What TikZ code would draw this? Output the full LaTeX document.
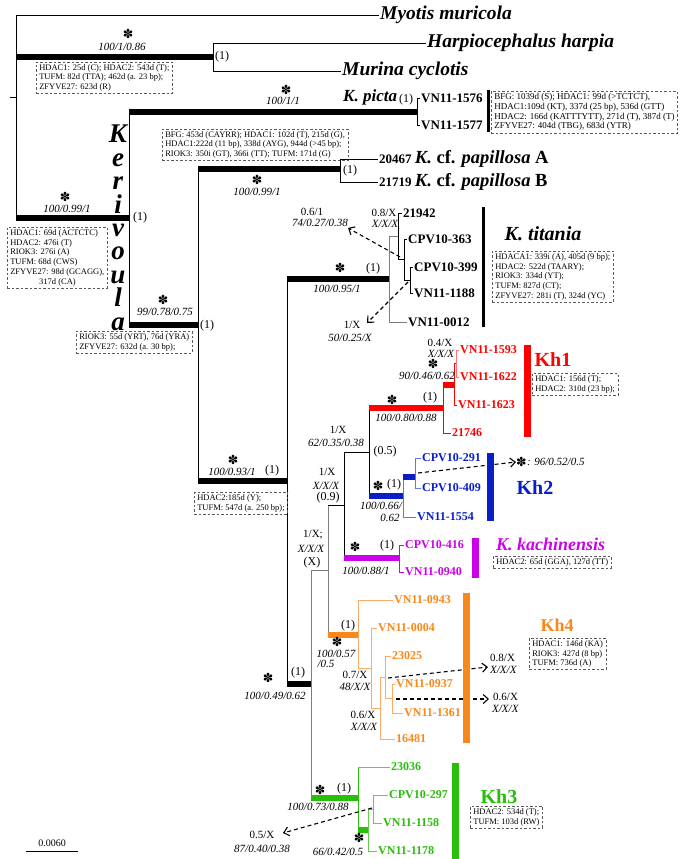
\documentclass[tikz,border=0pt]{standalone}
\usepackage{fontspec}
\setmainfont{Liberation Serif}
\newfontfamily\symb{DejaVu Sans}
\usetikzlibrary{arrows.meta, calc}
\definecolor{khred}{RGB}{255,0,0}
\definecolor{khredlt}{RGB}{255,120,120}
\definecolor{khblue}{RGB}{10,30,200}
\definecolor{khbluelt}{RGB}{90,120,230}
\definecolor{khmag}{RGB}{205,0,235}
\definecolor{khorange}{RGB}{250,135,25}
\definecolor{khorangelt}{RGB}{250,170,100}
\definecolor{khgreen}{RGB}{40,190,10}
\definecolor{khgreenlt}{RGB}{100,205,80}
\definecolor{lowsupp}{RGB}{125,125,125}
\definecolor{boxgray}{RGB}{90,90,90}

\begin{document}
\begin{tikzpicture}[x=1pt, y=-1pt,
    br/.style={line width=0.8pt},
    thickbr/.style={line width=5.5pt},
    cbar/.style={line width=7pt},
    tip/.style={anchor=west, inner sep=1pt, font=\fontsize{12}{12}\selectfont\bfseries},
    tipk/.style={anchor=west, inner sep=1pt, font=\fontsize{13}{13}\selectfont\bfseries},
    taxon/.style={anchor=west, inner sep=1pt, font=\fontsize{19.5}{19.5}\selectfont\bfseries\itshape},
    supp/.style={inner sep=0pt, font=\fontsize{11}{11}\selectfont\itshape},
    pp/.style={inner sep=0pt, font=\fontsize{11}{11}\selectfont},
    bs/.style={inner sep=0pt, font=\fontsize{12}{12}\selectfont},
    star/.style={inner sep=0pt, font=\symb\fontsize{12.5}{12.5}\selectfont},
    indel/.style={draw=boxgray, dash pattern=on 2.5pt off 2pt, line width=0.6pt, anchor=north west, align=left, inner xsep=3pt, inner ysep=2pt, font=\fontsize{8.5}{9.8}\selectfont},
    clade/.style={inner sep=0pt, font=\fontsize{20}{20}\selectfont\bfseries},
    cladeit/.style={inner sep=0pt, font=\fontsize{20}{20}\selectfont\bfseries\itshape},
    kerv/.style={anchor=north, inner sep=0pt, align=center, font=\fontsize{27}{23.4}\selectfont\bfseries\itshape},
    altpos/.style={dash pattern=on 4pt off 3pt, line width=1.1pt, -{Straight Barb[length=5pt, width=9pt]}}
  ]
    \useasboundingbox (0,0) rectangle (686,859);

    % Outgroups
    \coordinate (rootstem) at (10,97);
    \coordinate (root) at (16,97);
    \coordinate (mur) at (213,57);
    \coordinate (ker) at (129,218);
    \node[taxon] (myo) at (379,15) {Myotis muricola};
    \node[taxon] (harp) at (426,43) {Harpiocephalus harpia};
    \node[taxon] (muri) at (341,71) {Murina cyclotis};
    \draw[br] (rootstem) -- (root);
    \draw[br] (root |- myo) -- (root |- ker);
    \draw[br] (root |- myo) -- (myo.west);
    \draw[thickbr] (root |- mur) -- (mur);
    \draw[thickbr] (root |- ker) -- (ker);
    \draw[br] (mur |- harp) -- (mur |- muri);
    \draw[br] (mur |- harp) -- (harp.west);
    \draw[br] (mur |- muri) -- (muri.west);
    \node[star] (smur) at (128,34) {✽};
    \node[supp] (bmurs) at (122,47) {100/1/0.86};
    \node[bs] (pmur) at (222,57) {(1)};
    \node[indel] (bmur) at (36,62) {HDAC1: 25d (C); HDAC2: 543d (T);\\TUFM: 82d (TTA); 462d (a. 23 bp);\\ZFYVE27: 623d (R)};

    % Kerivoula
    \node[kerv] (kerlab) at (118,125) {K\\e\\r\\i\\v\\o\\u\\l\\a};
    \coordinate (picta) at (417,112);
    \coordinate (kA) at (198,325);
    \draw[br] (ker |- picta) -- (ker |- kA);
    \draw[thickbr] (ker |- picta) -- (picta);
    \draw[thickbr] (ker |- kA) -- (kA);
    \node[star] (sker) at (65,197) {✽};
    \node[supp] (bkers) at (67,209) {100/0.99/1};
    \node[bs] (pker) at (140,218) {(1)};
    \node[indel] (bker) at (7,227) {HDAC1: 69d (ACTCTC)\\HDAC2: 476i (T)\\RIOK3: 276i (A)\\TUFM: 68d (CWS)\\ZFYVE27: 98d (GCAGG),\\\hspace*{3.4em}317d (CA)};

    % K. picta
    \node[taxon, font=\fontsize{17}{17}\selectfont\bfseries\itshape] (pictalab) at (342,97) {K. picta};
    \node[bs] (ppicta) at (406,100) {(1)};
    \node[star] (spicta) at (286,90) {✽};
    \node[supp] (bpictas) at (283,101) {100/1/1};
    \node[tipk] (v1576) at (420,98) {VN11-1576};
    \node[tipk] (v1577) at (420,125) {VN11-1577};
    \draw[br] (picta |- v1576) -- (picta |- v1577);
    \draw[br] (picta |- v1576) -- (v1576.west);
    \draw[br] (picta |- v1577) -- (v1577.west);
    \draw[line width=3pt] (488,90) -- (488,132);
    \node[indel, font=\fontsize{9}{9.8}\selectfont] (bpicta) at (491,91) {BFG: 1039d (S); HDAC1: 99d (>TCTCT),\\HDAC1:109d (KT), 337d (25 bp), 536d (GTT)\\HDAC2: 166d (KATTTYTT), 271d (T), 387d (T)\\ZFYVE27: 404d (TBG), 683d (YTR)};
    \node[indel] (bpap) at (162,129) {BFG: 453d (CAYRR); HDAC1: 102d (T), 215d (G),\\HDAC1:222d (11 bp), 338d (AYG), 944d (>45 bp);\\RIOK3: 350i (GT), 366i (TT); TUFM: 171d (G)};

    % K. cf. papillosa
    \coordinate (pap) at (340,169);
    \coordinate (kB) at (287,481);
    \draw[br] (kA |- pap) -- (kA |- kB);
    \draw[thickbr] (kA |- pap) -- (pap);
    \draw[thickbr] (kA |- kB) -- (kB);
    \node[tipk] (papA) at (378,159) {20467 {\fontsize{18.5}{18.5}\selectfont\textit{K.} cf. \textit{papillosa} A}};
    \node[tipk] (papB) at (378,182) {21719 {\fontsize{18.5}{18.5}\selectfont\textit{K.} cf. \textit{papillosa} B}};
    \draw[br] (pap |- papA) -- (pap |- papB);
    \draw[br] (pap |- papA) -- (papA.west);
    \draw[br] (pap |- papB) -- (papB.west);
    \node[bs] (ppap) at (350,171) {(1)};
    \node[star] (spap) at (257,180) {✽};
    \node[supp] (bpaps) at (257,192) {100/0.99/1};
    \node[star] (skA) at (163,300) {✽};
    \node[supp] (bkAs) at (165,312) {99/0.78/0.75};
    \node[bs] (pkA) at (207,326) {(1)};
    \node[indel] (bkA) at (76,331) {RIOK3: 55d (YRT), 76d (YRA)\\ZFYVE27: 632d (a. 30 bp);};

    % K. titania
    \coordinate (tit) at (389,279);
    \coordinate (kC) at (311,684);
    \draw[br] (kB |- tit) -- (kB |- kC);
    \draw[thickbr] (kB |- tit) -- (tit);
    \draw[thickbr] (kB |- kC) -- (kC);
    \node[star] (skB) at (233,460) {✽};
    \node[supp] (bkBs) at (232,472) {100/0.93/1};
    \node[bs] (pkB) at (272,471) {(1)};
    \node[indel] (bkB) at (194,492) {HDAC2:185d (Y);\\TUFM: 547d (a. 250 bp);};
    \coordinate (t2) at (398,236);
    \coordinate (t3) at (404,259);
    \coordinate (t4) at (410,280);
    \node[tipk] (t21942) at (402,213) {21942};
    \node[tipk] (c363) at (407,239) {CPV10-363};
    \node[tipk] (c399) at (413,267) {CPV10-399};
    \node[tipk] (v1188) at (413,293) {VN11-1188};
    \node[tipk] (v0012) at (407,322) {VN11-0012};
    \draw[br, lowsupp] (tit |- t2) -- (tit |- v0012);
    \draw[br, lowsupp] (tit |- t2) -- (t2);
    \draw[br, lowsupp] (tit |- v0012) -- (v0012.west);
    \draw[br] (t2 |- t21942) -- (t2 |- t3);
    \draw[br] (t2 |- t21942) -- (t21942.west);
    \draw[br] (t2 |- t3) -- (t3);
    \draw[br] (t3 |- c363) -- (t3 |- t4);
    \draw[br] (t3 |- c363) -- (c363.west);
    \draw[br] (t3 |- t4) -- (t4);
    \draw[br] (t4 |- c399) -- (t4 |- v1188);
    \draw[br] (t4 |- c399) -- (c399.west);
    \draw[br] (t4 |- v1188) -- (v1188.west);
    \node[star] (stit) at (340,268) {✽};
    \node[bs] (ptit) at (373,269) {(1)};
    \node[supp] (btits) at (337,289) {100/0.95/1};
    \node[pp] (t2pp) at (384,213) {0.8/X};
    \node[supp] (t2bs) at (385,224) {X/X/X};
    \coordinate (a1s) at (400,257);
    \coordinate (a1e) at (348,228);
    \draw[altpos] (a1s) -- (a1e);
    \node[pp] (a1pp) at (312,212) {0.6/1};
    \node[supp] (a1bs) at (320,223) {74/0.27/0.38};
    \coordinate (a2s) at (408,282);
    \coordinate (a2e) at (367,323);
    \draw[altpos] (a2s) -- (a2e);
    \node[pp] (a2pp) at (352,325) {1/X};
    \node[supp] (a2bs) at (350,338) {50/0.25/X};
    \draw[line width=3pt] (483,207) -- (483,327);
    \node[cladeit] (titlab) at (543,234) {K. titania};
    \node[indel] (btit) at (492,251) {HDACA1: 339i (A), 405d (9 bp);\\HDAC2: 522d (TAARY);\\RIOK3: 334d (YT);\\TUFM: 827d (CT);\\ZFYVE27: 281i (T), 324d (YC)};

    % backbone of Kh clades
    \coordinate (kD) at (328,570);
    \coordinate (kh3) at (358,798);
    \coordinate (kE) at (344,505);
    \coordinate (kh4) at (358,635);
    \coordinate (kF) at (369,452);
    \coordinate (kach) at (399,558);
    \coordinate (kh1) at (443,408);
    \coordinate (kh2) at (403,496);
    \draw[br, lowsupp] (kC |- kD) -- (kC |- kh3);
    \draw[br, lowsupp] (kC |- kD) -- (kD);
    \draw[thickbr, khgreen] (kC |- kh3) -- (kh3);
    \draw[br, lowsupp] (kD |- kE) -- (kD |- kh4);
    \draw[br] (kD |- kE) -- (kE);
    \draw[thickbr, khorange] (kD |- kh4) -- (kh4);
    \draw[br] (kE |- kF) -- (kE |- kach);
    \draw[br] (kE |- kF) -- (kF);
    \draw[thickbr, khmag] (kE |- kach) -- (kach);
    \draw[br] (kF |- kh1) -- (kF |- kh2);
    \draw[thickbr, khred] (kF |- kh1) -- (kh1);
    \draw[thickbr, khblue] (kF |- kh2) -- (kh2);
    \node[star] (skC) at (268,678) {✽};
    \node[bs] (pkC) at (298,673) {(1)};
    \node[supp] (bkCs) at (275,696) {100/0.49/0.62};
    \node[pp] (kDpp) at (313,535) {1/X;};
    \node[supp] (kDbs) at (311,549) {X/X/X};
    \node[bs] (pkD) at (312,563) {(X)};
    \node[pp] (kEpp) at (327,472) {1/X};
    \node[supp] (kEbs) at (326,486) {X/X/X};
    \node[bs] (pkE) at (328,498) {(0.9)};
    \node[pp] (kFpp) at (338,430) {1/X};
    \node[supp] (kFbs) at (336,443) {62/0.35/0.38};
    \node[bs] (pkF) at (385,452) {(0.5)};

    % Kh1
    \coordinate (h1a) at (454,385);
    \coordinate (h1b) at (456,363);
    \node[tip, khred] (v1593) at (459,350) {VN11-1593};
    \node[tip, khred] (v1622) at (459,377) {VN11-1622};
    \node[tip, khred] (v1623) at (457,405) {VN11-1623};
    \node[tip, khred] (t21746) at (451,433) {21746};
    \draw[br, khred] (kh1 |- h1a) -- (kh1 |- t21746);
    \draw[thickbr, khred] (kh1 |- h1a) -- (h1a);
    \draw[br, khred] (kh1 |- t21746) -- (t21746.west);
    \draw[br, khred] (h1a |- h1b) -- (h1a |- v1623);
    \draw[br, khred] (h1a |- h1b) -- (h1b);
    \draw[br, khred] (h1a |- v1623) -- (v1623.west);
    \draw[br, khredlt] (h1b |- v1593) -- (h1b |- v1622);
    \draw[br, khredlt] (h1b |- v1593) -- (v1593.west);
    \draw[br, khredlt] (h1b |- v1622) -- (v1622.west);
    \node[star] (skh1) at (392,400) {✽};
    \node[bs] (pkh1) at (430,398) {(1)};
    \node[supp] (bkh1s) at (406,418) {100/0.80/0.88};
    \node[star] (sh1a) at (433,364) {✽};
    \node[supp] (bh1as) at (427,376) {90/0.46/0.62};
    \node[pp] (h1bpp) at (440,343) {0.4/X};
    \node[supp] (h1bbs) at (441,354) {X/X/X};
    \draw[cbar, khred] (527,345) -- (527,437);
    \node[clade, khred] (kh1lab) at (553,360) {Kh1};
    \node[indel] (bkh1) at (532,373) {HDAC1: 156d (T);\\HDAC2: 310d (23 bp);};

    % Kh2
    \coordinate (h2a) at (415,477);
    \node[tip, khblue] (c291) at (421,458) {CPV10-291};
    \node[tip, khblue] (c409) at (421,488) {CPV10-409};
    \node[tip, khblue] (v1554) at (416,517) {VN11-1554};
    \draw[br, khbluelt] (kh2 |- h2a) -- (kh2 |- v1554);
    \draw[thickbr, khblue] (kh2 |- h2a) -- (h2a);
    \draw[br, khbluelt] (kh2 |- v1554) -- (v1554.west);
    \draw[br, khbluelt] (h2a |- c291) -- (h2a |- c409);
    \draw[br, khbluelt] (h2a |- c291) -- (c291.west);
    \draw[br, khbluelt] (h2a |- c409) -- (c409.west);
    \node[star] (skh2) at (378,486) {✽};
    \node[bs] (pkh2) at (394,485) {(1)};
    \node[supp] (bkh2s) at (381,506) {100/0.66/};
    \node[supp] (bkh2t) at (390,518) {0.62};
    \coordinate (a3s) at (418,473);
    \node[star, anchor=west] (a3star) at (516,462) {✽};
    \node[supp, anchor=west] (a3bs) at (a3star.east) {: 96/0.52/0.5};
    \draw[altpos] (a3s) -- (a3star.west);
    \draw[cbar, khblue] (490,453) -- (490,521);
    \node[clade, khblue] (kh2lab) at (535,488) {Kh2};

    % K. kachinensis
    \node[tip, khmag] (c416) at (404,545) {CPV10-416};
    \node[tip, khmag] (v0940) at (404,572) {VN11-0940};
    \draw[br, khmag] (kach |- c416) -- (kach |- v0940);
    \draw[br, khmag] (kach |- c416) -- (c416.west);
    \draw[br, khmag] (kach |- v0940) -- (v0940.west);
    \node[star] (skach) at (355,547) {✽};
    \node[bs] (pkach) at (387,546) {(1)};
    \node[supp] (bkachs) at (366,571) {100/0.88/1};
    \draw[cbar, khmag] (475,538) -- (475,578);
    \node[cladeit, khmag, anchor=west, font=\fontsize{18}{18}\selectfont\bfseries\itshape] (kachlab) at (496,544) {K. kachinensis};
    \node[indel] (bkach) at (493,556) {HDAC2: 65d (GGA), 127d (TT)};

    % Kh4
    \coordinate (k4b) at (371,668);
    \coordinate (k4c) at (380,708);
    \coordinate (k4d) at (385,677);
    \coordinate (k4e) at (392,698);
    \node[tip, khorange] (v0943) at (393,600) {VN11-0943};
    \node[tip, khorange] (v0004) at (377,628) {VN11-0004};
    \node[tip, khorange] (t23025) at (391,656) {23025};
    \node[tip, khorange] (v0937) at (395,684) {VN11-0937};
    \node[tip, khorange] (v1361) at (403,713) {VN11-1361};
    \node[tip, khorange] (t16481) at (395,739) {16481};
    \draw[br, khorangelt] (kh4 |- v0943) -- (kh4 |- k4b);
    \draw[br, khorangelt] (kh4 |- v0943) -- (v0943.west);
    \draw[br, khorangelt] (kh4 |- k4b) -- (k4b);
    \draw[br, khorangelt] (k4b |- v0004) -- (k4b |- k4c);
    \draw[br, khorangelt] (k4b |- v0004) -- (v0004.west);
    \draw[br, khorangelt] (k4b |- k4c) -- (k4c);
    \draw[br, khorangelt] (k4c |- k4d) -- (k4c |- t16481);
    \draw[br, khorangelt] (k4c |- k4d) -- (k4d);
    \draw[br, khorangelt] (k4c |- t16481) -- (t16481.west);
    \draw[br, khorangelt] (k4d |- t23025) -- (k4d |- k4e);
    \draw[br, khorangelt] (k4d |- t23025) -- (t23025.west);
    \draw[br, khorangelt] (k4d |- k4e) -- (k4e);
    \draw[br, khorangelt] (k4e |- v0937) -- (k4e |- v1361);
    \draw[br, khorangelt] (k4e |- v0937) -- (v0937.west);
    \draw[br, khorangelt] (k4e |- v1361) -- (v1361.west);
    \node[bs] (pkh4) at (348,626) {(1)};
    \node[star] (skh4) at (337,642) {✽};
    \node[supp] (bkh4s) at (336,654) {100/0.57};
    \node[supp] (bkh4t) at (326,664) {/0.5};
    \node[pp] (k4cpp) at (355,675) {0.7/X};
    \node[supp] (k4cbs) at (355,687) {48/X/X};
    \node[pp] (k4dpp) at (363,715) {0.6/X};
    \node[supp] (k4dbs) at (364,727) {X/X/X};
    \coordinate (a4s) at (388,678);
    \node[pp, anchor=west] (a4pp) at (490,658) {0.8/X};
    \node[supp, anchor=west] (a4bs) at (490,670) {X/X/X};
    \coordinate (a4e) at (488,667);
    \draw[altpos] (a4s) -- (a4e);
    \coordinate (a5s) at (396,699);
    \node[pp, anchor=west] (a5pp) at (493,697) {0.6/X};
    \node[supp, anchor=west] (a5bs) at (492,709) {X/X/X};
    \coordinate (a5e) at (489,699);
    \draw[altpos] (a5s) -- (a5e);
    \draw[cbar, khorange] (466,593) -- (466,743);
    \node[clade, khorange, font=\fontsize{18}{18}\selectfont\bfseries] (kh4lab) at (557,625) {Kh4};
    \node[indel] (bkh4) at (529,638) {HDAC1: 146d (KA)\\RIOK3: 427d (8 bp)\\TUFM: 736d (A)};

    % Kh3
    \coordinate (h3a) at (368,830);
    \coordinate (h3b) at (373,809);
    \node[tip, khgreen] (t23036) at (390,767) {23036};
    \node[tip, khgreen] (c297) at (388,795) {CPV10-297};
    \node[tip, khgreen] (v1158) at (382,823) {VN11-1158};
    \node[tip, khgreen] (v1178) at (377,851) {VN11-1178};
    \draw[br, khgreen] (kh3 |- t23036) -- (kh3 |- h3a);
    \draw[br, khgreenlt] (kh3 |- t23036) -- (t23036.west);
    \draw[thickbr, khgreen] (kh3 |- h3a) -- (h3a);
    \draw[br, khgreenlt] (h3a |- h3b) -- (h3a |- v1178);
    \draw[br, khgreenlt] (h3a |- h3b) -- (h3b);
    \draw[br, khgreenlt] (h3a |- v1178) -- (v1178.west);
    \draw[br, khgreenlt] (h3b |- c297) -- (h3b |- v1158);
    \draw[br, khgreenlt] (h3b |- c297) -- (c297.west);
    \draw[br, khgreenlt] (h3b |- v1158) -- (v1158.west);
    \node[star] (skh3) at (320,790) {✽};
    \node[bs] (pkh3) at (344,789) {(1)};
    \node[supp] (bkh3s) at (318,807) {100/0.73/0.88};
    \node[star] (sh3a) at (359,838) {✽};
    \node[supp] (bh3as) at (338,852) {66/0.42/0.5};
    \coordinate (a6s) at (372,808);
    \coordinate (a6e) at (283,833);
    \draw[altpos] (a6s) -- (a6e);
    \node[pp] (a6pp) at (262,835) {0.5/X};
    \node[supp] (a6bs) at (262,849) {87/0.40/0.38};
    \draw[cbar, khgreen] (455,763) -- (455,859);
    \node[clade, khgreen] (kh3lab) at (499,797) {Kh3};
    \node[indel] (bkh3) at (470,806) {HDAC2: 534d (T);\\TUFM: 103d (RW)};

    % scale bar
    \coordinate (sbl) at (26,851);
    \coordinate (sbr) at (78,851);
    \draw[br] (sbl) -- (sbr);
    \node[pp, font=\fontsize{10}{10}\selectfont] (sblab) at (52,843) {0.0060};
\end{tikzpicture}
\end{document}
